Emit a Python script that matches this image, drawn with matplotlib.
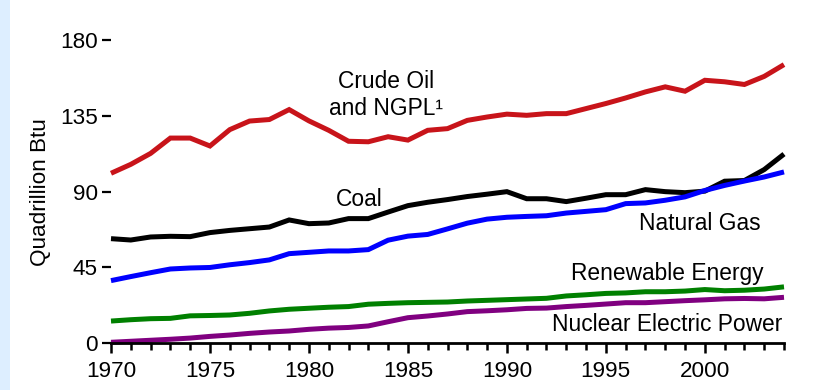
import matplotlib
matplotlib.use("Agg")
import matplotlib.pyplot as plt
from matplotlib.patches import Rectangle
from matplotlib.ticker import MultipleLocator

plt.rcParams['font.family'] = ['Liberation Sans', 'DejaVu Sans']

years = list(range(1970, 2005))

crude_oil_ngpl = [100.9, 106.2, 112.7, 121.8, 121.8, 117.1, 126.8, 131.9, 132.8, 138.7,
                  132.0, 126.4, 119.9, 119.6, 122.6, 120.6, 126.4, 127.4, 132.3, 134.3,
                  136.0, 135.3, 136.3, 136.3, 139.3, 142.3, 145.6, 149.2, 152.2, 149.6,
                  156.1, 155.2, 153.6, 158.4, 165.4]
coal = [62.1, 61.3, 63.1, 63.5, 63.3, 65.7, 67.0, 68.0, 69.0, 73.2,
        71.0, 71.4, 74.0, 74.0, 77.9, 81.7, 83.7, 85.3, 87.1, 88.5,
        90.0, 85.8, 85.8, 84.1, 86.1, 88.2, 88.2, 91.2, 90.0, 89.4,
        90.3, 96.2, 96.6, 103.1, 112.3]
natural_gas = [37.2, 39.6, 41.9, 44.1, 44.7, 45.0, 46.6, 47.9, 49.5, 53.2,
               54.0, 54.8, 54.8, 55.6, 61.2, 63.6, 64.6, 67.9, 71.3, 73.7,
               74.8, 75.3, 75.7, 77.3, 78.3, 79.3, 82.9, 83.3, 84.9, 86.9,
               90.7, 93.7, 96.3, 98.7, 101.7]
renewable = [13.2, 14.0, 14.6, 14.8, 16.3, 16.5, 16.8, 17.8, 19.2, 20.2,
             20.8, 21.4, 21.8, 23.2, 23.7, 24.1, 24.3, 24.5, 25.1, 25.5,
             25.9, 26.3, 26.7, 28.1, 28.8, 29.6, 29.9, 30.6, 30.6, 31.0,
             31.9, 31.2, 31.5, 32.2, 33.5]
nuclear = [0.6, 1.2, 1.8, 2.4, 3.1, 4.1, 4.9, 5.9, 6.7, 7.3,
           8.3, 9.0, 9.4, 10.3, 12.8, 15.2, 16.2, 17.4, 18.8, 19.3,
           19.9, 20.7, 20.9, 21.8, 22.5, 23.3, 24.1, 24.1, 24.7, 25.3,
           25.8, 26.4, 26.6, 26.4, 27.3]

y_ticks = [0, 45, 90, 135, 180]
x_ticks = [1970, 1975, 1980, 1985, 1990, 1995, 2000]

fig = plt.figure(figsize=(8.18, 3.9), dpi=100)
fig.patches.append(Rectangle((0, 0), 10 / 818, 1, transform=fig.transFigure,
                             facecolor='#DDEEFF', edgecolor='none', zorder=0))

ax = fig.add_axes([111 / 818, 46.7 / 390, 673 / 818, 303.3 / 390])

series = [
    (crude_oil_ngpl, '#C8141A'),
    (coal, '#000000'),
    (natural_gas, '#0000FF'),
    (renewable, '#008000'),
    (nuclear, '#800080'),
]
for values, color in series:
    ax.plot(years, values, color=color, lw=3.6, solid_joinstyle='miter',
            solid_capstyle='butt', clip_on=False, zorder=3)

ax.set_xlim(1970, 2004)
ax.set_ylim(0, 180)

for side in ('top', 'right', 'left'):
    ax.spines[side].set_visible(False)
ax.spines['bottom'].set_linewidth(2)
ax.spines['bottom'].set_zorder(4)

tick_size = 16.2
ax.set_yticks(y_ticks)
ax.set_xticks(x_ticks)
ax.xaxis.set_minor_locator(MultipleLocator(1))
ax.tick_params(axis='y', which='major', length=6.5, width=1.6, pad=3, labelsize=tick_size)
ax.tick_params(axis='x', which='major', length=7.5, width=1.8, pad=5, labelsize=tick_size)
ax.tick_params(axis='x', which='minor', length=5, width=1.8)

ax.text(-0.105, 0.5, 'Quadrillion Btu', transform=ax.transAxes, rotation=90,
        ha='center', va='center', fontsize=tick_size)

label_size = 16.4
ax.text(1983.9, 135.5, 'Crude Oil\nand NGPL\u00b9', ha='center', va='baseline',
        fontsize=label_size, linespacing=1.2)
ax.text(1982.55, 81.5, 'Coal', ha='center', va='baseline', fontsize=label_size)
ax.text(1999.75, 67.2, 'Natural Gas', ha='center', va='baseline', fontsize=label_size)
ax.text(1998.1, 37.6, 'Renewable Energy', ha='center', va='baseline', fontsize=label_size)
ax.text(1998.1, 7.3, 'Nuclear Electric Power', ha='center', va='baseline', fontsize=label_size)

fig.savefig('out.png', dpi=100)
